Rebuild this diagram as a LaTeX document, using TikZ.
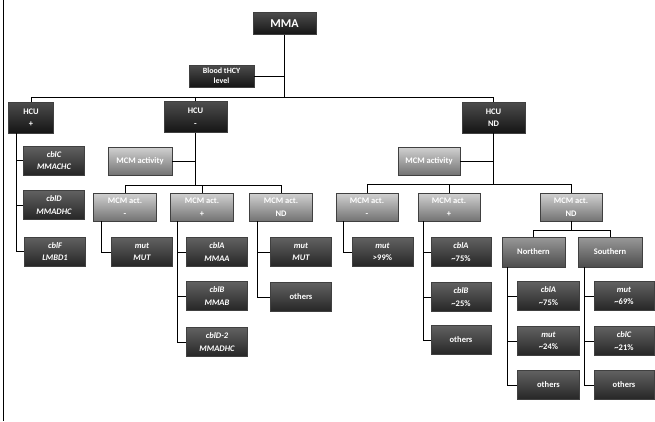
\documentclass[tikz,border=0pt]{standalone}
\usepackage{fontspec}
\setmainfont{Carlito}
\begin{document}
\begin{tikzpicture}[x=1pt,y=1pt,
  box/.style={rectangle,draw=black!75,line width=0.5pt,text=white,font=\bfseries\fontsize{8.5}{12.5}\selectfont,align=center,inner sep=1pt},
  topbox/.style={box,top color=black!70,bottom color=black!92,minimum width=63pt,minimum height=31pt},
  leaf/.style={box,top color=black!62,bottom color=black!85,minimum width=61pt,minimum height=29pt},
  light/.style={box,top color=black!18,bottom color=black!55,minimum width=63pt,minimum height=28pt},
  mid/.style={box,top color=black!40,bottom color=black!70,minimum width=63pt,minimum height=30pt},
  wire/.style={draw=black,line width=0.8pt}]
\useasboundingbox (0,0) rectangle (655,-421);
\draw[line width=0.8pt] (3,0) -- (3,-421);
% top
\node[topbox,minimum height=22pt,font=\bfseries\fontsize{12}{14}\selectfont] (mma) at (284.5,-23.5) {MMA};
\node[topbox,minimum width=65pt,minimum height=22pt,font=\bfseries\fontsize{8}{10}\selectfont] (blood) at (221.5,-76) {Blood tHCY\\level};
\node[topbox,minimum width=45pt] (hcuP) at (31,-117.5) {HCU\\+};
\node[topbox] (hcuM) at (195.5,-117) {HCU\\-};
\node[topbox] (hcuN) at (493.5,-117.5) {HCU\\ND};
\coordinate (bus) at (0,-97);
\draw[wire] (mma.south) -- (mma.south |- bus);
\draw[wire] (blood.east) -- (blood.east -| mma.south);
\draw[wire] (hcuP.north) -- (hcuP.north |- bus) -| (hcuN.north);
\draw[wire] (hcuM.north) -- (hcuM.north |- bus);
% HCU +
\node[leaf] (cblC) at (54,-160.5) {\itshape cblC\\\itshape MMACHC};
\node[leaf] (cblD) at (54,-205) {\itshape cblD\\\itshape MMADHC};
\node[leaf] (cblF) at (55,-251.5) {\itshape cblF\\\itshape LMBD1};
\coordinate (vP) at (16,0);
\draw[wire] (vP |- hcuP.south) |- (cblF.west);
\draw[wire] (vP |- cblC.west) -- (cblC.west);
\draw[wire] (vP |- cblD.west) -- (cblD.west);
% HCU -
\node[light,minimum width=64pt] (mcmA) at (140,-161) {MCM activity};
\node[light] (a1) at (125,-207) {MCM act.\\-};
\node[light] (a2) at (202,-207) {MCM act.\\+};
\node[light] (a3) at (281,-207) {MCM act.\\ND};
\coordinate (busA) at (0,-185);
\draw[wire] (hcuM.south) -- (hcuM.south |- busA);
\draw[wire] (mcmA.east) -- (mcmA.east -| hcuM.south);
\draw[wire] (a1.north) -- (a1.north |- busA) -| (a3.north);
\draw[wire] (a2.north) -- (a2.north |- busA);
\node[leaf] (mutA) at (142,-252) {\itshape mut\\\itshape MUT};
\node[leaf] (cblA) at (217,-252) {\itshape cblA\\\itshape MMAA};
\node[leaf] (cblB) at (217,-296) {\itshape cblB\\\itshape MMAB};
\node[leaf] (cblD2) at (217,-342) {\itshape cblD-2\\\itshape MMADHC};
\node[leaf] (mutB) at (301,-252) {\itshape mut\\\itshape MUT};
\node[leaf] (othA) at (301,-297) {others};
\coordinate (v1) at (101,0);
\coordinate (v2) at (177,0);
\coordinate (v3) at (257,0);
\draw[wire] (v1 |- a1.south) |- (mutA.west);
\draw[wire] (v2 |- a2.south) |- (cblD2.west);
\draw[wire] (v2 |- cblA.west) -- (cblA.west);
\draw[wire] (v2 |- cblB.west) -- (cblB.west);
\draw[wire] (v3 |- a3.south) |- (othA.west);
\draw[wire] (v3 |- mutB.west) -- (mutB.west);
% HCU ND
\node[light,minimum width=62pt] (mcmB) at (429,-161) {MCM activity};
\node[light,minimum width=62pt] (b1) at (367,-207) {MCM act.\\-};
\node[light,minimum width=62pt] (b2) at (449,-207) {MCM act.\\+};
\node[light,minimum width=62pt] (b3) at (571,-207) {MCM act.\\ND};
\coordinate (busB) at (0,-184);
\draw[wire] (hcuN.south) -- (hcuN.south |- busB);
\draw[wire] (mcmB.east) -- (mcmB.east -| hcuN.south);
\draw[wire] (b1.north) -- (b1.north |- busB) -| (b3.north);
\draw[wire] (b2.north) -- (b2.north |- busB);
\node[leaf] (mutC) at (382.5,-252) {\itshape mut\\>99\%};
\node[leaf,minimum width=60pt] (cblA2) at (461,-252) {\itshape cblA\\\textasciitilde75\%};
\node[leaf,minimum width=60pt] (cblB2) at (461,-297) {\itshape cblB\\\textasciitilde25\%};
\node[leaf,minimum width=60pt] (othB) at (461,-340) {others};
\coordinate (v4) at (343,0);
\coordinate (v5) at (423,0);
\draw[wire] (v4 |- b1.south) |- (mutC.west);
\draw[wire] (v5 |- b2.south) |- (othB.west);
\draw[wire] (v5 |- cblA2.west) -- (cblA2.west);
\draw[wire] (v5 |- cblB2.west) -- (cblB2.west);
\node[mid] (north) at (533.5,-252) {Northern};
\node[mid,minimum width=64pt] (south) at (610,-252) {Southern};
\coordinate (busC) at (0,-230);
\draw[wire] (b3.south) -- (b3.south |- busC);
\draw[wire] (north.north) -- (north.north |- busC) -| (south.north);
\node[leaf,minimum width=62pt] (c1) at (548.5,-296) {\itshape cblA\\\textasciitilde75\%};
\node[leaf,minimum width=62pt] (c2) at (548.5,-341) {\itshape mut\\\textasciitilde24\%};
\node[leaf,minimum width=62pt] (c3) at (548.5,-385) {others};
\node[leaf,minimum width=60pt] (d1) at (624,-296) {\itshape mut\\\textasciitilde69\%};
\node[leaf,minimum width=60pt] (d2) at (624,-341) {\itshape cblC\\\textasciitilde21\%};
\node[leaf,minimum width=60pt] (d3) at (624,-385) {others};
\coordinate (v6) at (507,0);
\coordinate (v7) at (584,0);
\draw[wire] (v6 |- north.south) |- (c3.west);
\draw[wire] (v6 |- c1.west) -- (c1.west);
\draw[wire] (v6 |- c2.west) -- (c2.west);
\draw[wire] (v7 |- south.south) |- (d3.west);
\draw[wire] (v7 |- d1.west) -- (d1.west);
\draw[wire] (v7 |- d2.west) -- (d2.west);
\end{tikzpicture}
\end{document}
